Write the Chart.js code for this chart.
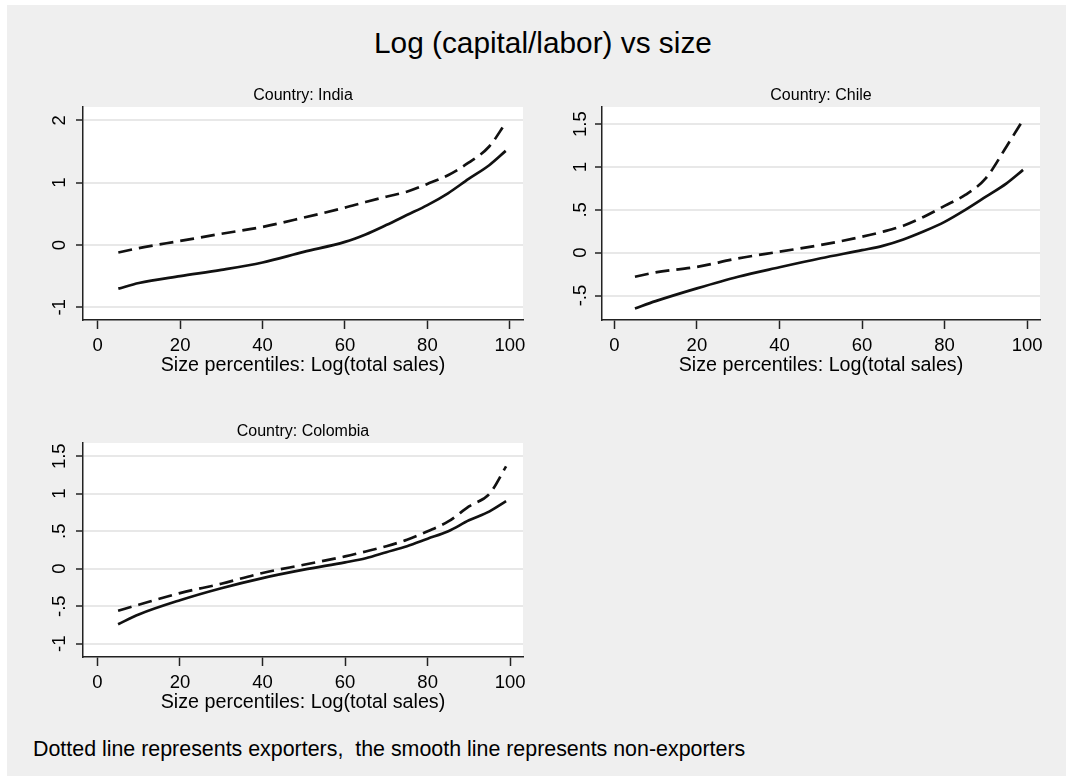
<!DOCTYPE html>
<html>
<head>
<meta charset="utf-8">
<script src="https://cdn.jsdelivr.net/npm/chart.js@4.4.1/dist/chart.umd.min.js"></script>
<style>
  html, body { margin: 0; padding: 0; background: #fff; }
  #fondo { position: absolute; left: 7px; top: 5px; width: 1059px; height: 771px; background: #efefef; }
  canvas { position: absolute; }
  .texto { position: absolute; font-family: "Liberation Sans", Arial, sans-serif; color: #000; line-height: 1; white-space: pre; }
  #titulo { left: 374px; top: 28px; font-size: 29.8px; }
  #nota { left: 33px; top: 739px; font-size: 21.4px; }
</style>
</head>
<body>
<div id="fondo"></div>
<div id="titulo" class="texto">Log (capital/labor) vs size</div>
<canvas id="india" width="508" height="305" style="left:30px; top:80px;"></canvas>
<canvas id="chile" width="506" height="305" style="left:549px; top:80px;"></canvas>
<canvas id="colombia" width="508" height="306" style="left:30px; top:416px;"></canvas>
<div id="nota" class="texto">Dotted line represents exporters,  the smooth line represents non-exporters</div>

<script>
// percentiles de tamaño (eje x) y valores log(K/L) por país
const percentiles = [5, 10, 20, 30, 40, 50, 60, 65, 70, 75, 80, 85, 90, 95, 99];
const ticksX = [0, 20, 40, 60, 80, 100];

const indiaExport = [-0.12, -0.05, 0.065, 0.18, 0.29, 0.44, 0.60, 0.69, 0.775, 0.855, 0.98, 1.12, 1.32, 1.58, 1.96];
const indiaNoExport = [-0.70, -0.61, -0.50, -0.40, -0.28, -0.11, 0.05, 0.17, 0.32, 0.48, 0.64, 0.83, 1.06, 1.28, 1.51];
const indiaTicksY = [-1, 0, 1, 2];

const chileExport = [-0.28, -0.23, -0.165, -0.066, 0.012, 0.09, 0.187, 0.245, 0.315, 0.42, 0.546, 0.674, 0.87, 1.24, 1.55];
const chileNoExport = [-0.65, -0.565, -0.416, -0.28, -0.17, -0.065, 0.03, 0.08, 0.155, 0.25, 0.36, 0.50, 0.654, 0.81, 0.966];
const chileTicksY = [-0.5, 0, 0.5, 1, 1.5];

const colombiaExport = [-0.56, -0.48, -0.325, -0.2, -0.057, 0.053, 0.164, 0.23, 0.30, 0.387, 0.50, 0.63, 0.83, 1.0, 1.364];
const colombiaNoExport = [-0.74, -0.61, -0.42, -0.26, -0.125, -0.013, 0.085, 0.14, 0.22, 0.30, 0.40, 0.50, 0.645, 0.765, 0.90];
const colombiaTicksY = [-1, -0.5, 0, 0.5, 1, 1.5];

const FUENTE = '"Liberation Sans", Arial, sans-serif';
Chart.defaults.font.family = FUENTE;
Chart.defaults.color = '#000';

// fondo blanco solo en la región del gráfico
const fondoBlanco = {
    id: 'fondoBlanco',
    beforeDraw(chart) {
        const { ctx, chartArea: a } = chart;
        ctx.save();
        ctx.fillStyle = '#fff';
        ctx.fillRect(a.left, a.top, a.right - a.left, a.bottom - a.top);
        ctx.restore();
    }
};

const puntos = (valores) => percentiles.map((p, i) => ({ x: p, y: valores[i] }));

// estilo Stata: ".5" y "-.5" en vez de "0.5"
const formato = (v) => String(v).replace('0.', '.');

function panel(id, titulo, exportadores, noExportadores, ticksY, yMin, yMax, xMin, xMax, padY) {
    new Chart(document.getElementById(id), {
        type: 'line',
        data: {
            datasets: [{
                label: 'Exporters',
                data: puntos(exportadores),
                borderDash: [14, 7],
            }, {
                label: 'Non-exporters',
                data: puntos(noExportadores),
            }, ],
        },
        options: {
            responsive: false,
            animation: false,
            layout: { padding: { right: 15 } },
            elements: {
                point: { radius: 0 },
                line: { borderWidth: 2.7, borderColor: '#111', cubicInterpolationMode: 'monotone', fill: false },
            },
            plugins: {
                legend: { display: false },
                tooltip: { enabled: false },
                title: {
                    display: true,
                    fullSize: false,
                    text: titulo,
                    color: '#000',
                    font: { size: 16, weight: 'normal', lineHeight: 1.2 },
                    padding: { top: 6.4, bottom: 1.4 },
                },
            },
            scales: {
                x: {
                    type: 'linear',
                    min: xMin,
                    max: xMax,
                    afterBuildTicks: (s) => { s.ticks = ticksX.map((v) => ({ value: v })); },
                    afterFit: (s) => { s.height = 65; },
                    grid: { drawOnChartArea: false, tickLength: 9, tickColor: '#222', tickWidth: 1.5 },
                    border: { color: '#222', width: 1.5 },
                    ticks: { font: { size: 18.5 }, color: '#000', padding: 6, maxRotation: 0 },
                    title: {
                        display: true,
                        text: 'Size percentiles: Log(total sales)',
                        color: '#000',
                        font: { size: 19.7, lineHeight: 1.2 },
                        padding: { top: 0, bottom: 8 },
                    },
                },
                y: {
                    min: yMin,
                    max: yMax,
                    afterBuildTicks: (s) => { s.ticks = ticksY.map((v) => ({ value: v })); },
                    afterFit: (s) => { s.width = 53; },
                    grid: { color: '#e8e8e8', lineWidth: 2, tickLength: 7, tickColor: '#222', tickWidth: 1.5 },
                    border: { color: '#222', width: 1.5 },
                    ticks: {
                        font: { size: 18.5 },
                        color: '#000',
                        minRotation: 90,
                        maxRotation: 90,
                        crossAlign: 'center',
                        padding: padY,
                        callback: formato,
                    },
                },
            },
        },
        plugins: [fondoBlanco],
    });
}

panel('india', 'Country: India', indiaExport, indiaNoExport, indiaTicksY, -1.203, 2.214, -3.57, 103.2, 8);
panel('chile', 'Country: Chile', chileExport, chileNoExport, chileTicksY, -0.785, 1.70, -2.98, 103.1, 1.5);
panel('colombia', 'Country: Colombia', colombiaExport, colombiaNoExport, colombiaTicksY, -1.177, 1.676, -3.5, 103.1, 3);
</script>
</body>
</html>
